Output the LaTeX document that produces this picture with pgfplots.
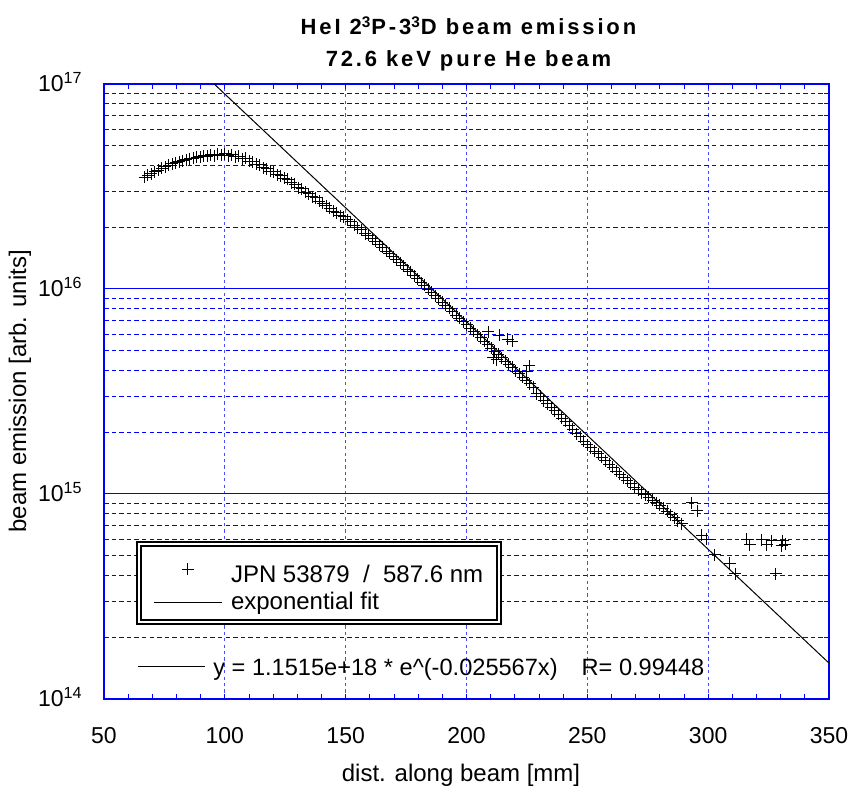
\documentclass[border=0pt]{standalone}
\usepackage{fontspec}
\setmainfont{Liberation Sans}
\newfontfamily\titlefont[LetterSpace=13]{Liberation Sans}
\usepackage{pgfplots}
\pgfplotsset{compat=1.18}

\newcommand{\lblfont}{\fontsize{12}{14.4}\selectfont}
\newcommand{\tickfont}{\fontsize{11.5}{13.8}\selectfont}

% legend samples: a single cross, and a plain line segment
\pgfplotsset{
  crossleg/.style={legend image code/.code={%
    \draw[mark repeat=2,mark phase=2,##1] plot coordinates {(0pt,0pt)(17pt,0pt)(34pt,0pt)};}},
  lineleg/.style={legend image code/.code={%
    \draw[##1] (0pt,0pt) -- (34pt,0pt);}},
}

\begin{document}
\begin{tikzpicture}
\begin{axis}[
  name=ax,
  scale only axis,
  width=362.5pt, height=307.5pt,
  ymode=log,
  xmin=50, xmax=350,
  ymin=1e14, ymax=1e17,
  xtick={50,100,...,350},
  xticklabels={50,100,150,200,250,300,350},
  minor x tick num=4,
  ytick={1e14,1e15,1e16,1e17},
  yticklabels={10\textsuperscript{14},10\textsuperscript{15},10\textsuperscript{16},10\textsuperscript{17}},
  tick align=inside,
  major tick length=2.5pt,
  minor tick length=2.5pt,
  every tick/.style={blue, line width=0.5pt},
  axis line style={blue, line width=1pt},
  xmajorgrids, ymajorgrids, yminorgrids,
  grid style={blue, line width=0.5pt},
  major x grid style={blue!70, line width=0.5pt, dash pattern=on 1.6pt off 1.6pt},
  major y grid style={blue, line width=0.5pt},
  minor grid style={color=blue, line width=0.5pt, dash pattern=on 2.2pt off 1.6pt},
  minor y grid style={color=blue, line width=0.5pt, dash pattern=on 2.2pt off 1.6pt},
  xticklabel style={anchor=center, yshift=-18.5pt, inner sep=0pt, font=\tickfont},
  yticklabel style={anchor=base east, xshift=-10.5pt, yshift=-4pt, inner sep=0pt, font=\tickfont},
  xlabel={dist. along beam [mm]},
  xlabel style={at={(axis description cs:0.4924,0)}, anchor=center, yshift=-38pt, font=\lblfont},
  ylabel={beam emission [arb. units]},
  ylabel style={at={(axis description cs:-0.1159,0.5)}, anchor=center, font=\lblfont},
  title={HeI 2\textsuperscript{3}P-3\textsuperscript{3}D beam emission\\72.6 keV pure He beam},
  title style={at={(axis description cs:0.5,1)}, anchor=south, align=center, inner sep=0pt,
    yshift=0pt, xshift=1pt, font=\titlefont\bfseries\fontsize{11}{16}\selectfont},
  legend style={at={(axis description cs:0.0469,0.2537)}, anchor=north west,
    draw=black, line width=1pt, double=white, double distance=1pt, fill=white,
    inner xsep=7pt, inner ysep=3.5pt, row sep=1.5pt, font=\lblfont,
    nodes={inner sep=1pt}},
  legend cell align=left,
]

% measured emission along the beam
\addplot[only marks, mark=+, mark size=3pt, black, line width=0.5pt, crossleg]
  table {
x y
66.8 3.51e16
68.2 3.59e16
69.5 3.65e16
71.0 3.73e16
72.4 3.80e16
73.9 3.89e16
75.3 3.95e16
76.8 4.01e16
78.2 4.07e16
79.7 4.13e16
81.1 4.18e16
82.6 4.23e16
84.0 4.27e16
85.5 4.31e16
86.9 4.35e16
88.4 4.38e16
89.8 4.42e16
91.3 4.47e16
92.7 4.44e16
94.2 4.52e16
95.6 4.47e16
97.1 4.55e16
98.5 4.48e16
100.0 4.57e16
101.4 4.47e16
102.9 4.52e16
104.3 4.42e16
105.8 4.45e16
107.2 4.32e16
108.7 4.33e16
110.1 4.19e16
111.6 4.17e16
113.0 4.06e16
114.5 4.03e16
115.9 3.91e16
117.4 3.87e16
118.8 3.76e16
120.3 3.73e16
121.7 3.61e16
123.2 3.56e16
124.6 3.47e16
126.1 3.43e16
127.5 3.30e16
129.0 3.25e16
130.4 3.12e16
131.9 3.08e16
133.3 2.96e16
134.8 2.92e16
136.2 2.82e16
137.7 2.78e16
139.1 2.68e16
140.6 2.62e16
142.0 2.54e16
143.5 2.48e16
144.9 2.40e16
146.4 2.36e16
147.8 2.28e16
149.3 2.25e16
150.7 2.17e16
152.2 2.13e16
153.6 2.05e16
155.1 1.99e16
156.5 1.94e16
158.0 1.86e16
159.4 1.83e16
160.9 1.76e16
162.3 1.71e16
163.8 1.64e16
165.2 1.60e16
166.7 1.53e16
168.1 1.49e16
169.6 1.44e16
171.0 1.39e16
172.5 1.34e16
173.9 1.30e16
175.4 1.24e16
176.8 1.21e16
178.3 1.16e16
179.7 1.12e16
181.2 1.07e16
182.6 1.04e16
184.1 9.95e15
185.5 9.66e15
187.0 9.29e15
188.4 8.95e15
189.9 8.63e15
191.3 8.32e15
192.8 8.04e15
194.2 7.73e15
195.7 7.45e15
197.1 7.18e15
198.6 6.92e15
200.0 6.70e15
201.5 6.43e15
202.9 6.21e15
204.4 5.98e15
205.8 5.78e15
207.3 5.55e15
208.7 5.37e15
210.2 5.15e15
211.6 4.98e15
213.1 4.79e15
214.5 4.62e15
216.0 4.45e15
217.4 4.29e15
218.9 4.15e15
220.3 3.98e15
221.8 3.85e15
223.2 3.70e15
224.7 3.58e15
226.1 3.45e15
227.6 3.31e15
209.0 6.17e15
213.5 5.96e15
217.0 5.69e15
219.0 5.56e15
211.0 4.62e15
212.5 4.52e15
226.0 4.22e15
225.0 3.98e15
229.0 3.09e15
230.5 2.99e15
232.0 2.85e15
233.5 2.75e15
235.0 2.63e15
236.5 2.54e15
238.0 2.45e15
239.5 2.34e15
241.0 2.26e15
242.5 2.16e15
244.0 2.07e15
245.5 1.97e15
247.0 1.90e15
248.5 1.81e15
250.0 1.74e15
251.5 1.68e15
253.0 1.62e15
254.5 1.57e15
256.0 1.51e15
257.5 1.45e15
259.0 1.40e15
260.5 1.35e15
262.0 1.29e15
263.5 1.25e15
265.0 1.20e15
266.5 1.16e15
268.0 1.12e15
269.5 1.08e15
271.0 1.05e15
272.5 1.01e15
274.0 9.93e14
275.5 9.66e14
277.0 9.33e14
278.5 9.08e14
280.0 8.81e14
281.5 8.51e14
283.0 8.22e14
284.5 7.94e14
286.0 7.67e14
287.5 7.41e14
289.0 7.16e14
293.3 9.04e14
295.4 8.26e14
297.4 6.30e14
299.5 6.03e14
302.8 5.04e14
309.0 4.60e14
311.1 4.08e14
316.0 6.03e14
317.3 5.64e14
322.2 5.98e14
324.3 5.64e14
326.4 5.90e14
328.0 4.08e14
330.5 5.60e14
330.9 5.90e14
331.8 5.70e14
};
\addlegendentry{\hspace{3.5pt}\rule{0pt}{14.8pt}JPN 53879\ \ /\ \ 587.6 nm}

% exponential fit y = 1.1515e18 exp(-0.025567 x)
\addplot[black, line width=0.5pt, lineleg]
  table {
x y
95.6 1.0e17
100 8.930e16
200 6.927e15
300 5.373e14
350 1.496e14
};
\addlegendentry{\hspace{3.5pt}exponential fit}

\draw[black, line width=0.5pt] (rel axis cs:0.0469,0.052) -- (rel axis cs:0.1393,0.052);
\node[anchor=west, inner sep=0pt, font=\fontsize{11.8}{14}\selectfont]
  at (rel axis cs:0.1503,0.048)
  {y = 1.1515e+18 * e\textasciicircum(-0.025567x)\hspace{12pt}R= 0.99448};
\end{axis}
\path ([shift={(-52pt,-45pt)}]ax.south west) rectangle ([shift={(375pt,349.5pt)}]ax.south west);
\end{tikzpicture}
\end{document}
